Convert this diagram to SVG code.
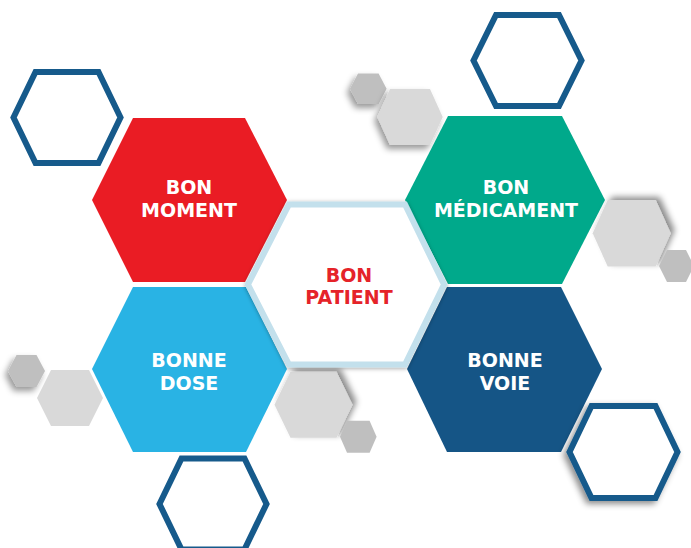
<svg xmlns="http://www.w3.org/2000/svg" width="691" height="548" viewBox="0 0 691 548">
<defs>
<filter id="shUR" x="-40%" y="-40%" width="180%" height="180%"><feDropShadow dx="4" dy="-3" stdDeviation="3" flood-color="#000" flood-opacity="0.45"/></filter>
<filter id="shDL" x="-40%" y="-40%" width="180%" height="180%"><feDropShadow dx="-3" dy="4" stdDeviation="3" flood-color="#000" flood-opacity="0.4"/></filter>
<filter id="shGlow" x="-20%" y="-20%" width="140%" height="140%"><feDropShadow dx="0" dy="1" stdDeviation="2" flood-color="#000" flood-opacity="0.35"/></filter>
<filter id="shOut" x="-30%" y="-30%" width="160%" height="160%"><feDropShadow dx="-3" dy="3" stdDeviation="3" flood-color="#000" flood-opacity="0.45"/></filter>
</defs>
<style>
.lbl{font-family:"DejaVu Sans","Verdana",sans-serif;font-weight:bold;font-size:19px;fill:#fff;text-anchor:middle}
.red{fill:#e52329}
.out{fill:#fff;stroke:#165a8b;stroke-width:6;stroke-linejoin:miter}
.g1{fill:#bfbfbf}
.g2{fill:#d9d9d9}
</style>
<rect width="691" height="548" fill="#fff"/>
<g id="deco">
<polygon class="out" points="13.5,117.5 35.5,72 98.5,72 120.5,117.5 98.5,163 35.5,163"/>
<polygon class="out" points="473.5,60.5 496,15 559,15 581.5,60.5 559,106 496,106"/>
<polygon class="out" points="159.5,504 181.5,458.5 244.5,458.5 266.5,504 244.5,549.5 181.5,549.5"/>
<polygon class="g1" points="350,88.7 358,73.4 378.6,73.4 386.6,88.7 378.6,104 358,104" filter="url(#shDL)"/>
<polygon class="g2" points="377.3,117 390,89 430,89 442.7,117 430,145 390,145" filter="url(#shDL)"/>
<polygon class="g1" points="8,371 16.5,355 36.5,355 45,371 36.5,387 16.5,387" filter="url(#shDL)"/>
<polygon class="g2" points="37,398 51,370 89,370 103,398 89,426 51,426"/>
</g>
<g id="bon-moment">
<polygon fill="#ea1c24" points="92,200 133,118 245,118 287,200 245,282 133,282"/>
<text class="lbl" x="189" y="194">BON</text>
<text class="lbl" x="189" y="217">MOMENT</text>
</g>
<g id="bon-medicament">
<polygon fill="#00a98b" points="405,200 448,116 562,116 605,200 562,284 448,284"/>
<text class="lbl" x="506" y="194">BON</text>
<text class="lbl" x="506" y="217">MÉDICAMENT</text>
</g>
<g id="bonne-dose">
<polygon fill="#29b3e4" points="92,369 133,287 246,287 287,369 246,452 133,452"/>
<text class="lbl" x="189" y="367">BONNE</text>
<text class="lbl" x="189" y="390">DOSE</text>
</g>
<g id="bonne-voie">
<polygon fill="#155586" points="407,369 447,287 561,287 602,369 561,452 447,452"/>
<text class="lbl" x="505" y="367">BONNE</text>
<text class="lbl" x="505" y="390">VOIE</text>
</g>
<g id="deco2">
<polygon class="g2" points="592.7,233.3 607.7,200 655.7,200 670.7,233.3 655.7,266.6 607.7,266.6" filter="url(#shUR)"/>
<polygon class="g1" points="659,266 667,250 686,250 694,266 686,282 667,282"/>
<polygon class="g2" points="274.5,404.7 290.5,371.7 336.5,371.7 352.5,404.7 336.5,437.7 290.5,437.7" filter="url(#shUR)"/>
<polygon class="g1" points="340,436.7 347,420.7 369.6,420.7 376.6,436.7 369.6,452.7 347,452.7"/>
<polygon class="out" points="569.5,452 591.5,406 655.5,406 677.5,452 655.5,498 591.5,498" filter="url(#shOut)"/>
</g>
<g id="bon-patient">
<polygon points="248,284.5 289,204.5 405,204.5 444,284.5 405,364.5 289,364.5" fill="#fff" stroke="#c3e0ec" stroke-width="6" filter="url(#shGlow)"/>
<text class="lbl red" x="349" y="282">BON</text>
<text class="lbl red" x="349" y="304">PATIENT</text>
</g>
</svg>
